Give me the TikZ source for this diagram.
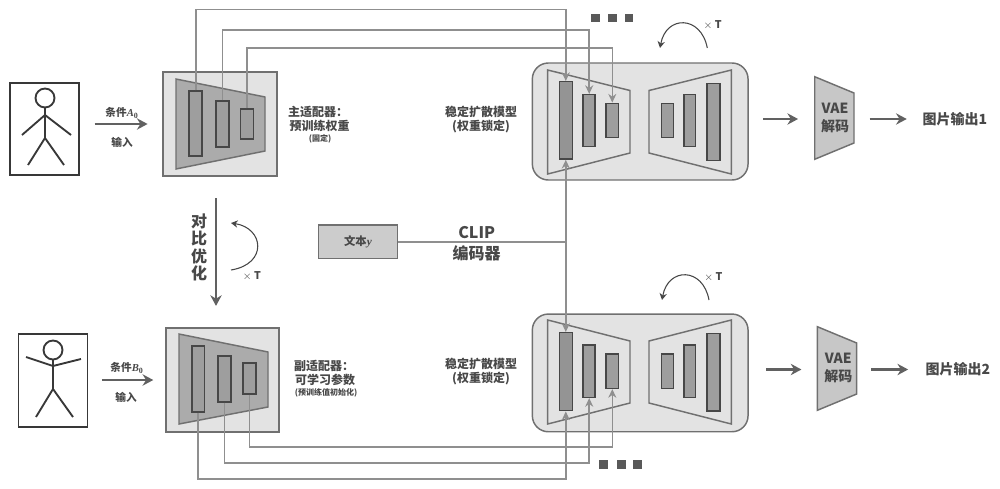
\documentclass[tikz,border=0pt]{standalone}
\usepackage{fontspec}
\setmainfont{Noto Sans CJK SC}
\newfontfamily\latvar{Liberation Serif}
\usepackage{amsmath}
\usepackage{xcolor}
\usetikzlibrary{arrows.meta,positioning,calc}
\definecolor{inkg}{HTML}{484848}
\definecolor{wireg}{HTML}{8F8F8F}
\definecolor{edgeg}{HTML}{707070}
\newcommand{\condvar}[2]{{\latvar\bfseries\itshape #1}\textsubscript{\latvar\bfseries #2}}
\tikzset{
  panel/.style 2 args={draw=edgeg,line width=1.1pt,fill=black!11,inner sep=0,minimum width=#1*0.75pt,minimum height=#2*0.75pt},
  barbox/.style 2 args={draw=black!72,line width=1.1pt,fill=black!38,inner sep=0,minimum width=#1*0.75pt,minimum height=#2*0.75pt},
  wire/.style={draw=wireg,line width=1.2pt},
  wirearrow/.style={wire,-{Stealth[length=6.5pt,width=6pt]}},
  fatarrow/.style={draw=black!62,line width=2pt,-{Stealth[length=8pt,width=8.5pt]}},
  turn/.style={draw=black!72,line width=0.8pt,-{Stealth[length=5pt,width=5.5pt]}},
  trap/.style={draw=edgeg,line width=1.1pt},
  figure/.style={draw=black!78,line width=1.4pt},
  dot/.style={fill=black!65,inner sep=0,minimum size=6.5pt},
  lab/.style={text=inkg,inner sep=0,align=center,font=\bfseries\fontsize{#1}{#1}\selectfont},
  lab/.default=8
}
\begin{document}
\begin{tikzpicture}[x=0.75pt,y=-0.75pt]
\useasboundingbox (0,0) rectangle (1000,489);
% left figures
\node[figure,draw,inner sep=0,minimum width=51.75pt,minimum height=69pt] (pa) at (44.5,129) {};
\draw[figure] (45,98) circle (9.5);
\draw[figure] (45,107.5)--(45,138) (22,135)--(45,115)--(71,135) (28,165)--(45,138)--(64,165);
\node[figure,draw,inner sep=0,minimum width=51.75pt,minimum height=69.75pt] (pb) at (53,380.5) {};
\draw[figure] (53,350) circle (9.5);
\draw[figure] (53,359.5)--(53,389) (26,357)--(53,366)--(81,359) (36,417)--(53,389)--(73,417);
% adapters
\node[panel={114}{104}] (ma) at (220,124) {};
\draw[trap,fill=black!33] (176,79)--(265,97)--(265,151)--(176,169)--cycle;
\node[barbox={13}{65}] (ma1) at (195.7,123.5) {};
\node[barbox={13}{46}] (ma2) at (222.3,124) {};
\node[barbox={13}{30}] (ma3) at (247,124) {};
\node[panel={113}{104}] (mb) at (222.5,380) {};
\draw[trap,fill=black!33] (179,334)--(268,352)--(268,407)--(179,424)--cycle;
\node[barbox={12.5}{66}] (mb1) at (198.2,379) {};
\node[barbox={13}{46}] (mb2) at (224.5,379) {};
\node[barbox={13}{31}] (mb3) at (249.5,378.5) {};
% diffusion models
\node[panel={215.7}{117},rounded corners=12pt] (sa) at (640.2,121.5) {};
\draw[trap] (547.7,70)--(630,90.5)--(630,153)--(547.7,174)--cycle;
\draw[trap] (649,90.5)--(731.3,70)--(731.3,174)--(649,153)--cycle;
\node[barbox={13}{77.3},fill=black!42] (sa1) at (565.8,120.4) {};
\node[barbox={12}{52}] (sa2) at (589.2,120.7) {};
\node[barbox={12.5}{34.4}] (sa3) at (612.3,120.5) {};
\node[barbox={12.4}{34.4}] (sa4) at (667.5,120.5) {};
\node[barbox={11.5}{52}] (sa5) at (689.7,120.7) {};
\node[barbox={13}{77.4}] (sa6) at (713.5,122) {};
\node[panel={215.7}{117.7},rounded corners=12pt] (sb) at (640.2,372.9) {};
\draw[trap] (547.7,320)--(630,341)--(630,403)--(547.7,424)--cycle;
\draw[trap] (649,341)--(731.3,320)--(731.3,424)--(649,403)--cycle;
\node[barbox={13}{78},fill=black!42] (sb1) at (565.8,371.7) {};
\node[barbox={12}{52.3}] (sb2) at (589.2,371.2) {};
\node[barbox={12.5}{34.3}] (sb3) at (612.3,371.2) {};
\node[barbox={12.4}{34.3}] (sb4) at (667.5,371.2) {};
\node[barbox={11.5}{52.3}] (sb5) at (689.7,371.2) {};
\node[barbox={13}{77.7}] (sb6) at (713.5,372.2) {};
% vae
\node[inner sep=0,minimum width=29.25pt,minimum height=61.5pt] (va) at (834.5,118) {};
\draw[trap,fill=black!22] (va.north west)--(854,93)--(854,143)--(va.south west)--cycle;
\node[lab=10.5] (vat) at (835,118) {VAE\\[3pt]解码};
\node[inner sep=0,minimum width=29.25pt,minimum height=62.25pt] (vb) at (837.2,368.5) {};
\draw[trap,fill=black!22] (vb.north west)--(856.7,343)--(856.7,394)--(vb.south west)--cycle;
\node[lab=10.5] (vbt) at (838.3,367.5) {VAE\\[3pt]解码};
% text and outputs
\node[draw=edgeg,line width=1.1pt,fill=black!20,inner sep=0,minimum width=59.5pt,minimum height=25pt,lab=8.5] (tx) at (358,241.7) {文本{\latvar\itshape y}};
\node[lab=10.5] (oa) at (955,119) {图片输出1};
\node[lab=10.5] (ob) at (958,369.5) {图片输出2};
\node[lab=12] (clip) at (476.7,233) {CLIP};
\node[lab=12] (enc) at (476.7,253) {编码器};
\node[lab=8] (la) at (122,113) {条件\condvar{A}{0}};
\node[lab=8] (lai) at (122,142) {输入};
\node[lab=8] (lb) at (127,368) {条件\condvar{B}{0}};
\node[lab=8] (lbi) at (126,397) {输入};
\node[lab=9] (ma4) at (318,112) {主适配器：};
\node[lab=9] (ma5) at (319.5,126) {预训练权重};
\node[lab=6] (ma6) at (320,139) {(固定)};
\node[lab=9] (mb4) at (324,366) {副适配器：};
\node[lab=9] (mb5) at (325,380) {可学习参数};
\node[lab=6] (mb6) at (326,393) {(预训练值初始化)};
\node[lab=9] (st) at (481,119.7) {稳定扩散模型\\[1.5pt](权重锁定)};
\node[lab=9] (sbt) at (481,372) {稳定扩散模型\\[1.5pt](权重锁定)};
\node[lab=12] (op) at (199,247.5) {对\\[1pt]比\\[1pt]优\\[1pt]化};
\node[lab=8] (tm) at (252,276) {$\times$ T};
\node[lab=8] (tsa) at (712.7,25) {$\times$ T};
\node[lab=8] (tsb) at (713.3,277) {$\times$ T};
% dots
\foreach \i/\xa in {1/595.3,2/612.5,3/629} \node[dot] (da\i) at (\xa,18) {};
\foreach \i/\xa in {1/603.8,2/621.2,3/637.8} \node[dot] (db\i) at (\xa,464.5) {};
% wires
\coordinate (ra1) at (380,9.5);
\coordinate (ra2) at (380,30);
\coordinate (ra3) at (380,48);
\coordinate (rb1) at (380,479);
\coordinate (rb2) at (380,463);
\coordinate (rb3) at (380,447);
\coordinate (cj) at (565.8,241.7);
\draw[wirearrow] (ma1.north) |- (ra1) -| (sa1.north);
\draw[wirearrow] (ma2.north) |- (ra2) -| (sa2.north);
\draw[wirearrow] (ma3.north) |- (ra3) -| (sa3.north);
\draw[wirearrow] (mb1.south) |- (rb1) -| (sb1.south);
\draw[wirearrow] (mb2.south) |- (rb2) -| (sb2.south);
\draw[wirearrow] (mb3.south) |- (rb3) -| (sb3.south);
\draw[wire] (tx.east) -- (cj);
\draw[wirearrow] (cj) -- (sa1.south);
\draw[wirearrow] (cj) -- (sb1.north);
% thick arrows
\draw[fatarrow,shorten <=11pt,shorten >=11pt] (pa.east |- ma.west) -- (ma.west);
\draw[fatarrow,shorten <=10pt,shorten >=9pt] (pb.east |- mb.west) -- (mb.west);
\coordinate (optx) at (216,240);
\draw[fatarrow,shorten <=16pt,shorten >=16pt] (ma.south -| optx) -- (mb.north -| optx);
\draw[fatarrow,shorten <=11pt,shorten >=12.5pt] (sa.east |- oa.west) -- (va.west |- oa.west);
\draw[fatarrow,shorten <=11.5pt,shorten >=11.8pt] (va.east |- oa.west) -- (oa.west);
\draw[fatarrow,shorten <=13pt,shorten >=12pt] (sb.east |- ob.west) -- (vb.west |- ob.west);
\draw[fatarrow,shorten <=10.7pt,shorten >=13pt] (vb.east |- ob.west) -- (ob.west);
% loops
\coordinate (ta1) at (707.3,48);
\coordinate (ta2) at (660,48);
\coordinate (tb1) at (709,300);
\coordinate (tb2) at (662,300);
\coordinate (tc1) at (231,270);
\coordinate (tc2) at (231,223);
\draw[turn] (ta1) .. controls (701,15) and (666,15) .. (ta2);
\draw[turn] (tb1) .. controls (703,267) and (668,267) .. (tb2);
\draw[turn] (tc1) .. controls (268,264) and (264,228) .. (tc2);
\end{tikzpicture}
\end{document}
